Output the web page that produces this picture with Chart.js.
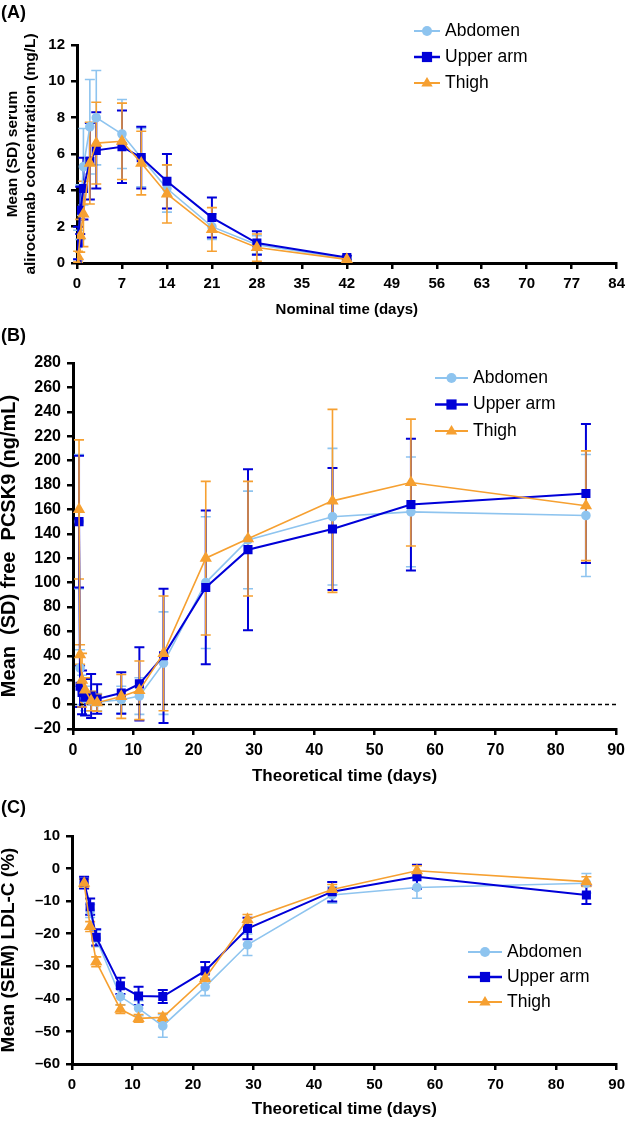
<!DOCTYPE html>
<html>
<head>
<meta charset="utf-8">
<script src="https://cdn.jsdelivr.net/npm/chart.js@4.4.1/dist/chart.umd.min.js"></script>
<style>
body{margin:0;background:#fff;width:631px;height:1122px;position:relative;overflow:hidden;font-family:"Liberation Sans",Arial,sans-serif}
.panel{position:absolute;left:0}
.lbl{position:absolute;left:1px;font-weight:bold;font-size:18px;line-height:20px}
</style>
</head>
<body>
<div class="panel" style="top:0"><canvas id="chartA" width="631" height="320"></canvas></div>
<div class="panel" style="top:320px"><canvas id="chartB" width="631" height="470"></canvas></div>
<div class="panel" style="top:790px"><canvas id="chartC" width="631" height="332"></canvas></div>
<div class="lbl" style="top:2px">(A)</div>
<div class="lbl" style="top:325px">(B)</div>
<div class="lbl" style="top:797px">(C)</div>
<script>
// (A) serum alirocumab, mg/L
const timesA = [0, 0.17, 0.5, 1, 2, 3, 7, 10, 14, 21, 28, 42];
const abdomenA = [0, 1.0, 2.8, 5.3, 7.5, 8.0, 7.1, 5.8, 4.1, 2.0, 1.0, 0.25];
const abdomenSdA = [0, 0.8, 1.5, 2.1, 2.6, 2.6, 1.9, 1.6, 1.3, 0.7, 0.5, 0.1];
const upperArmA = [0, 1.1, 2.9, 4.1, 5.6, 6.2, 6.4, 5.8, 4.5, 2.5, 1.1, 0.3];
const upperArmSdA = [0, 0.9, 1.3, 1.7, 2.1, 2.1, 2.0, 1.7, 1.5, 1.1, 0.65, 0.1];
const thighA = [0, 0.35, 1.5, 2.7, 5.5, 6.6, 6.7, 5.5, 3.8, 1.85, 0.85, 0.2];
const thighSdA = [0, 0.3, 0.9, 1.8, 2.25, 2.25, 2.1, 1.75, 1.6, 1.2, 0.75, 0.1];

// (B) free PCSK9, ng/mL
const timesB = [1, 1.17, 1.5, 2, 3, 4, 8, 11, 15, 22, 29, 43, 56, 85];
const abdomenB = [150, 30, 12, 5, 3, 2, 4, 7, 34, 100, 135, 154, 158, 155];
const abdomenSdB = [55, 15, 12, 10, 8, 7, 11, 15, 42, 54, 40, 56, 45, 50];
const upperArmB = [150, 15, 10, 6, 7, 4.6, 9.5, 17, 40, 96, 127, 144, 164, 173];
const upperArmSdB = [54, 17, 18, 15, 18, 12, 17, 30, 55, 63, 66, 50, 54, 57];
const thighB = [160, 41, 20, 12, 3, 1.5, 6.7, 11.7, 42, 120, 136, 167, 182, 163];
const thighSdB = [57, 8, 22, 10, 8, 7, 18, 24, 47, 63, 47, 75, 52, 45];

// (C) LDL-C % change
const timesC = [2, 3, 4, 8, 11, 15, 22, 29, 43, 57, 85];
const abdomenC = [-4.5, -13, -21.5, -39.3, -42.9, -48.3, -36.3, -23.4, -8.1, -5.8, -4.5];
const abdomenSemC = [1.5, 2, 2.5, 2.5, 2.3, 3.5, 2.7, 3.3, 2.5, 3.3, 3];
const upperArmC = [-4.3, -11.7, -21.1, -36, -39.1, -39.3, -31.4, -18.4, -7.1, -2.5, -8.1];
const upperArmSemC = [1.8, 2.5, 2.5, 2.5, 2.8, 2, 2.7, 3.3, 3, 3.7, 2.8];
const thighC = [-4.5, -17.8, -28.6, -43.2, -46, -45.7, -33.7, -15.6, -6.4, -0.65, -4];
const thighSemC = [1.2, 1.5, 1.5, 1.3, 1.2, 1.3, 1.5, 1.5, 1.5, 1.5, 1.5];

const labels = ['Abdomen', 'Upper arm', 'Thigh'];
const colAbd = '#8ec4ef';
const colArm = '#0000d8';
const colThigh = '#f6a031';
const FONT = '"Liberation Sans", Arial, sans-serif';

function pts(t, v){
    return t.map((x, i) => ({x: x, y: v[i]}));
}

function makeSets(t, abd, abdSd, arm, armSd, th, thSd){
    return [
        {label: labels[0], data: pts(t, abd), sd: abdSd, borderColor: colAbd, backgroundColor: colAbd,
         pointStyle: 'circle', pointRadius: 4, borderWidth: 1.6, order: 2},
        {label: labels[1], data: pts(t, arm), sd: armSd, borderColor: colArm, backgroundColor: colArm,
         pointStyle: 'rect', pointRadius: 5, borderWidth: 2, order: 1},
        {label: labels[2], data: pts(t, th), sd: thSd, borderColor: colThigh, backgroundColor: colThigh,
         pointStyle: 'triangle', pointRadius: 5.5, borderWidth: 1.6, order: 0}
    ];
}

function drawMarker(ctx, style, x, y, r){
    ctx.beginPath();
    if(style == 'circle'){
        ctx.arc(x, y, r, 0, Math.PI*2);
    } else if(style == 'rect'){
        ctx.rect(x - r*0.85, y - r*0.85, r*1.7, r*1.7);
    } else {
        ctx.moveTo(x, y - r);
        ctx.lineTo(x + r*0.95, y + r*0.6);
        ctx.lineTo(x - r*0.95, y + r*0.6);
        ctx.closePath();
    }
    ctx.fill();
}

// error bars, drawn under the lines
const errorBars = {
    id: 'errorBars',
    beforeDatasetsDraw(chart){
        const ctx = chart.ctx, ys = chart.scales.y, xs = chart.scales.x, a = chart.chartArea;
        ctx.save();
        ctx.beginPath();
        ctx.rect(a.left - 6, a.top - 4, a.right - a.left + 12, a.bottom - a.top + 4);
        ctx.clip();
        [0, 1, 2].forEach(di => {
            const ds = chart.data.datasets[di];
            ctx.strokeStyle = ds.borderColor;
            ctx.lineWidth = di == 1 ? 2 : 1.6;
            ds.data.forEach((p, i) => {
                const sd = ds.sd[i];
                if(!sd) return;
                const x = xs.getPixelForValue(p.x);
                const y1 = ys.getPixelForValue(p.y + sd);
                const y2 = ys.getPixelForValue(p.y - sd);
                ctx.beginPath();
                ctx.moveTo(x, y1); ctx.lineTo(x, y2);
                ctx.moveTo(x - 5, y1); ctx.lineTo(x + 5, y1);
                ctx.moveTo(x - 5, y2); ctx.lineTo(x + 5, y2);
                ctx.stroke();
            });
        });
        ctx.restore();
    }
};

const extras = {
    id: 'extras',
    beforeDatasetsDraw(chart, args, opts){
        if(!opts.zeroLine) return;
        const ctx = chart.ctx, a = chart.chartArea;
        const y = chart.scales.y.getPixelForValue(0);
        ctx.save();
        ctx.strokeStyle = '#000';
        ctx.lineWidth = 1.5;
        ctx.setLineDash([4, 3]);
        ctx.beginPath();
        ctx.moveTo(a.left, y); ctx.lineTo(a.right, y);
        ctx.stroke();
        ctx.restore();
    },
    afterDraw(chart, args, opts){
        const ctx = chart.ctx;
        ctx.save();
        ctx.font = '17.5px ' + FONT;
        ctx.textBaseline = 'middle';
        chart.data.datasets.forEach((ds, i) => {
            const y = opts.y + i*opts.dy;
            ctx.strokeStyle = ds.borderColor;
            ctx.fillStyle = ds.borderColor;
            ctx.lineWidth = i == 1 ? 2.5 : 2;
            ctx.beginPath();
            ctx.moveTo(opts.x, y); ctx.lineTo(opts.x + opts.len, y);
            ctx.stroke();
            drawMarker(ctx, ds.pointStyle, opts.x + opts.len/2, y, i == 0 ? 5 : 6);
            ctx.fillStyle = '#000';
            ctx.fillText(ds.label, opts.x + opts.len + 5, y);
        });
        ctx.restore();
    }
};

function tickText(v){
    return v < 0 ? '\u2013' + Math.abs(v) : '' + v;
}

function axisOpts(min, max, step, tickFont, title, titleFont, titlePad, fit){
    return {
        type: 'linear', min: min, max: max,
        ticks: {stepSize: step, color: '#000', font: {family: FONT, size: tickFont, weight: 'bold'},
                padding: 6, callback: tickText, maxRotation: 0, autoSkip: false},
        grid: {display: true, drawOnChartArea: false, drawTicks: true, tickLength: 6, color: '#000', lineWidth: 2.5},
        border: {display: true, color: '#000', width: 3},
        title: {display: true, text: title, color: '#000', font: {family: FONT, size: titleFont, weight: 'bold', lineHeight: 1.2},
                padding: titlePad},
        afterFit: fit
    };
}

function makeChart(id, sets, cfg){
    const ctx = document.getElementById(id).getContext('2d');
    new Chart(ctx, {
        type: 'line',
        data: {datasets: sets},
        options: {
            responsive: false,
            animation: false,
            layout: {padding: {top: cfg.top, right: 11, left: 0, bottom: 0}},
            plugins: {legend: {display: false}, tooltip: {enabled: false},
                      extras: {x: cfg.legX, y: cfg.legY, dy: cfg.legDy, len: cfg.legLen, zeroLine: cfg.zero}},
            scales: {
                x: axisOpts(cfg.xMin, cfg.xMax, cfg.xStep, cfg.tickFont, cfg.xTitle, cfg.xTitleFont,
                            {top: 0, bottom: cfg.xTitlePad}, s => { s.height = cfg.xH; }),
                y: axisOpts(cfg.yMin, cfg.yMax, cfg.yStep, cfg.tickFont, cfg.yTitle, cfg.yTitleFont,
                            {top: cfg.yTitlePad, bottom: 0}, s => { s.width = cfg.left; })
            }
        },
        plugins: [errorBars, extras]
    });
}

makeChart('chartA', makeSets(timesA, abdomenA, abdomenSdA, upperArmA, upperArmSdA, thighA, thighSdA), {
    top: 45, left: 77, xH: 57,
    xMin: 0, xMax: 84, xStep: 7, yMin: 0, yMax: 12, yStep: 2, tickFont: 15,
    xTitle: 'Nominal time (days)', xTitleFont: 15, xTitlePad: 1,
    yTitle: ['Mean (SD) serum', 'alirocumab concentration (mg/L)'], yTitleFont: 15.5, yTitlePad: 3,
    legX: 414, legY: 31, legDy: 26, legLen: 26
});

makeChart('chartB', makeSets(timesB, abdomenB, abdomenSdB, upperArmB, upperArmSdB, thighB, thighSdB), {
    top: 43, left: 73, xH: 61,
    xMin: 0, xMax: 90, xStep: 10, yMin: -20, yMax: 280, yStep: 20, tickFont: 16,
    xTitle: 'Theoretical time (days)', xTitleFont: 17, xTitlePad: 3,
    yTitle: 'Mean  (SD) free  PCSK9 (ng/mL)', yTitleFont: 20, yTitlePad: -3,
    legX: 435, legY: 58, legDy: 26.5, legLen: 33, zero: true
});

makeChart('chartC', makeSets(timesC, abdomenC, abdomenSemC, upperArmC, upperArmSemC, thighC, thighSemC), {
    top: 46, left: 72, xH: 58,
    xMin: 0, xMax: 90, xStep: 10, yMin: -60, yMax: 10, yStep: 10, tickFont: 15,
    xTitle: 'Theoretical time (days)', xTitleFont: 17, xTitlePad: 2,
    yTitle: 'Mean (SEM) LDL-C (%)', yTitleFont: 19, yTitlePad: -3,
    legX: 468, legY: 162, legDy: 25, legLen: 34
});
</script>
</body>
</html>
